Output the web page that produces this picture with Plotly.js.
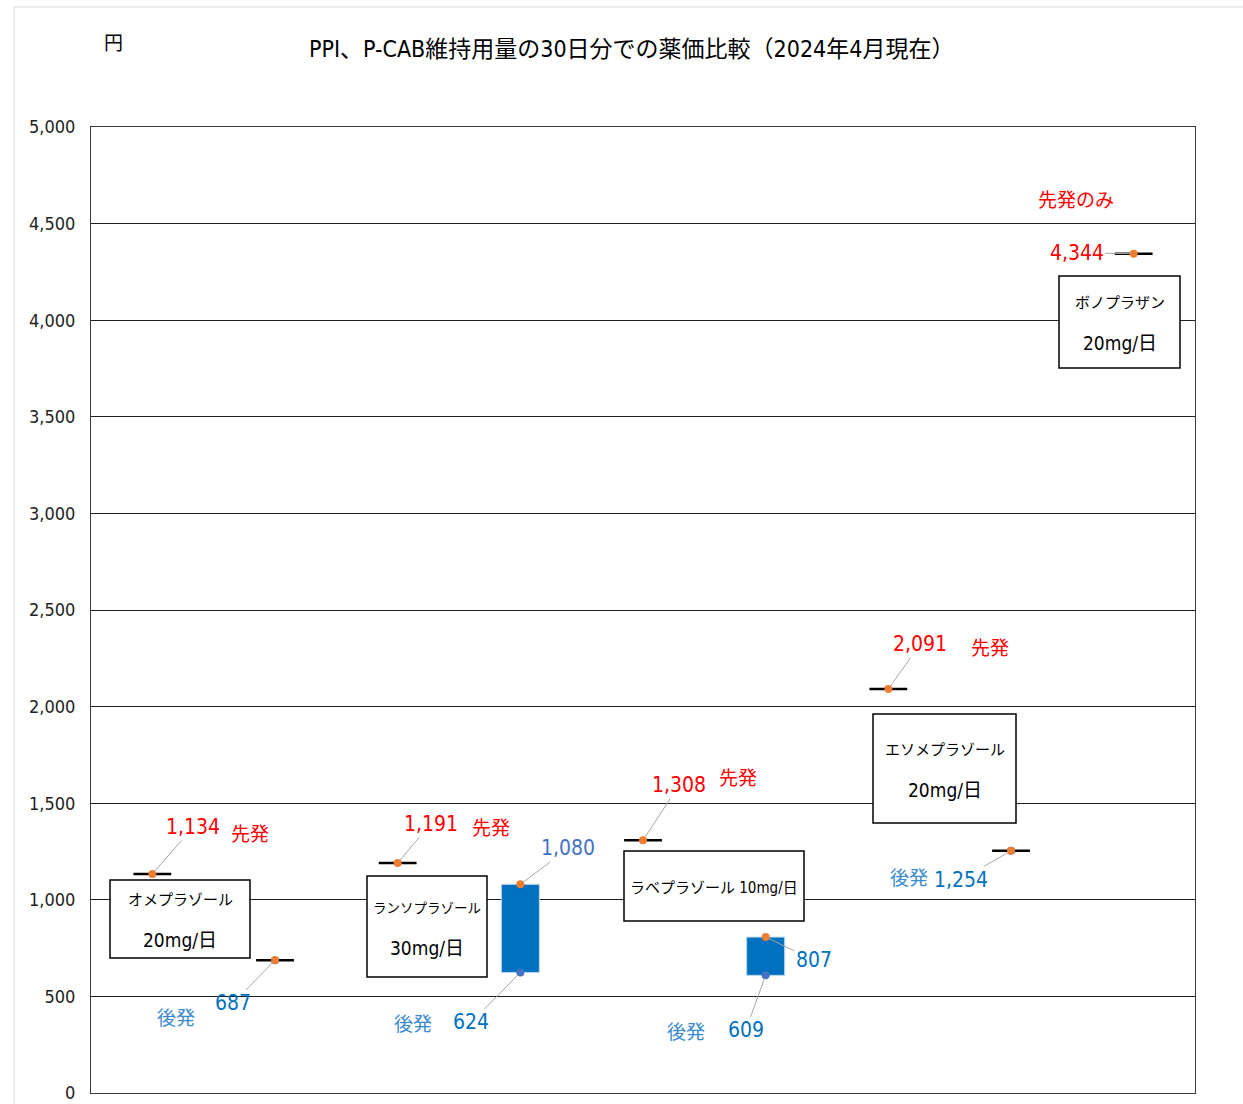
<!DOCTYPE html>
<html><head><meta charset="utf-8">
<script src="https://cdn.plot.ly/plotly-3.0.1.min.js"></script>
<style>html,body{margin:0;padding:0;background:#fff}#chart{width:1243px;height:1104px}</style>
</head><body><div id="chart"></div>
<script>
// ---- data ----
const categories = ['オメプラゾール先発','オメプラゾール後発','ランソプラゾール先発','ランソプラゾール後発','ラベプラゾール先発','ラベプラゾール後発','エソメプラゾール先発','エソメプラゾール後発','ボノプラザン先発'];
const brandX = [0, 2, 4, 6, 8];
const brandVal = [1134, 1191, 1308, 2091, 4344];
const genericX = [1, 3, 5, 7];
const genericLow = [687, 624, 609, 1254];
const genericHigh = [687, 1080, 807, 1254];
const drugNames = ['オメプラゾール', 'ランソプラゾール', 'ラベプラゾール', 'エソメプラゾール', 'ボノプラザン'];
const doses = ['20mg/日', '30mg/日', '10mg/日', '20mg/日', '20mg/日'];
const yTicks = [0, 500, 1000, 1500, 2000, 2500, 3000, 3500, 4000, 4500, 5000];
const titleText = 'PPI、P-CAB維持用量の30日分での薬価比較（2024年4月現在）';

// ---- helpers (pixel -> paper) ----
const L = 91, R = 1195, T = 127, B = 1093;
const PX = px => (px - L) / (R - L);
const PY = py => (B - py) / (B - T);
const NARROW = '"Liberation Sans Narrow", "DejaVu Sans Condensed", "Noto Sans CJK JP", sans-serif';
const JP = '"Noto Sans CJK JP", sans-serif';
const fmt = v => v.toLocaleString('en-US');
const txt = (px, py, text, font) => ({ x: PX(px), y: PY(py), xref: 'paper', yref: 'paper', text: text,
  showarrow: false, xanchor: 'center', yanchor: 'middle', font: font });

// ---- traces ----
const rangeIdx = genericX.map((x, i) => i).filter(i => genericHigh[i] > genericLow[i]);
const singleIdx = genericX.map((x, i) => i).filter(i => genericHigh[i] === genericLow[i]);

const traces = [
  { type: 'bar', x: rangeIdx.map(i => genericX[i]), base: rangeIdx.map(i => genericLow[i]),
    y: rangeIdx.map(i => genericHigh[i] - genericLow[i]), width: 0.31,
    marker: { color: '#0070C0', line: { color: '#BDD7EE', width: 1 } }, hoverinfo: 'skip' },
  { type: 'scatter', mode: 'markers',
    x: brandX.concat(singleIdx.map(i => genericX[i])),
    y: brandVal.concat(singleIdx.map(i => genericHigh[i])),
    marker: { symbol: 'line-ew', size: 27, line: { width: 2.5, color: '#000' } }, hoverinfo: 'skip' },
  { type: 'scatter', mode: 'markers', x: genericX, y: genericLow,
    marker: { size: 8, color: '#4472C4' }, hoverinfo: 'skip' },
  { type: 'scatter', mode: 'markers', x: brandX.concat(genericX), y: brandVal.concat(genericHigh),
    marker: { size: 8, color: '#ED7D31' }, hoverinfo: 'skip' }
];

// ---- annotations ----
const ann = [];
const arrowStyle = { showarrow: true, arrowhead: 0, arrowwidth: 1, arrowcolor: '#A6A6A6', standoff: 3 };
// brand value labels
const brandOff = [[41, -47], [33, -39], [36, -55], [32, -45], [-57, -1]];
brandX.forEach((x, i) => ann.push(Object.assign({ x: x, y: brandVal[i], xref: 'x', yref: 'y',
  text: fmt(brandVal[i]), ax: brandOff[i][0], ay: brandOff[i][1],
  font: { family: NARROW, size: 21, color: '#FF0000' } }, arrowStyle)));
// generic labels
const highOff = [[-42, 43], [48, -36], [48, 23], [-50, 29]];
const highColor = ['#0070C0', '#4472C4', '#0070C0', '#0070C0'];
const lowOff = [null, [-49, 50], [-20, 55], null];
genericX.forEach((x, i) => {
  ann.push(Object.assign({ x: x, y: genericHigh[i], xref: 'x', yref: 'y', text: fmt(genericHigh[i]),
    ax: highOff[i][0], ay: highOff[i][1], font: { family: NARROW, size: 21, color: highColor[i] } }, arrowStyle));
  if (genericHigh[i] > genericLow[i]) {
    ann.push(Object.assign({ x: x, y: genericLow[i], xref: 'x', yref: 'y', text: fmt(genericLow[i]),
      ax: lowOff[i][0], ay: lowOff[i][1], font: { family: NARROW, size: 21, color: '#0070C0' } }, arrowStyle));
  }
});
// 先発 / 後発 tags
const sentPos = [[250, 832], [491, 826], [738, 776], [990, 646]];
sentPos.forEach(p => ann.push(txt(p[0], p[1], '先発', { family: JP, size: 19, color: '#FF0000' })));
ann.push(txt(1076, 198, '先発のみ', { family: JP, size: 19, color: '#FF0000' }));
const koPos = [[176, 1016], [413, 1022], [686, 1030], [909, 876]];
koPos.forEach(p => ann.push(txt(p[0], p[1], '後発', { family: JP, size: 19, color: '#3A8AD0' })));

// drug name boxes
const boxes = [[110, 880, 250, 958], [367, 876, 487, 977], [624, 851, 804, 921], [873, 714, 1016, 823], [1059, 276, 1180, 368]];
const nameSize = [15, 13.5, 15, 15, 15];
const shapes = [];
boxes.forEach((b, i) => {
  shapes.push({ type: 'rect', xref: 'paper', yref: 'paper', x0: PX(b[0]), x1: PX(b[2]), y0: PY(b[3]), y1: PY(b[1]),
    line: { color: '#000', width: 1.5 }, fillcolor: '#fff', layer: 'above' });
  const cx = (b[0] + b[2]) / 2, cy = (b[1] + b[3]) / 2;
  if (i === 2) {
    ann.push(txt(cx, cy + 2, drugNames[i] + ' ' + doses[i], { family: NARROW, size: 15, color: '#000' }));
  } else {
    ann.push(txt(cx, cy - 19, drugNames[i], { family: NARROW, size: nameSize[i], color: '#000' }));
    ann.push(txt(cx, cy + 21, doses[i], { family: NARROW, size: 19, color: '#000' }));
  }
});
// gap in the 500 gridline behind the first 後発 label
shapes.push({ type: 'rect', xref: 'paper', yref: 'paper', x0: PX(147), x1: PX(207), y0: PY(1003), y1: PY(990),
  line: { width: 0 }, fillcolor: '#fff', layer: 'between' });
// outer light frame
shapes.push({ type: 'rect', xref: 'paper', yref: 'paper', x0: PX(14), x1: PX(1260), y0: PY(1120), y1: PY(7),
  line: { color: '#D9D9D9', width: 1 }, fillcolor: 'rgba(0,0,0,0)', layer: 'below' });

// title and unit
ann.push(txt(631, 49, titleText, { family: NARROW, size: 23, color: '#000' }));
ann.push(txt(113, 41, '円', { family: JP, size: 19, color: '#000' }));

const layout = {
  width: 1243, height: 1104,
  margin: { l: L, r: 1243 - R, t: T, b: 1104 - B, pad: 0 },
  paper_bgcolor: '#fff', plot_bgcolor: '#fff',
  showlegend: false,
  xaxis: { range: [-0.5, 8.5], showticklabels: false, showgrid: false, zeroline: false, ticks: '',
    showline: true, mirror: true, linecolor: '#3a3a3a', linewidth: 1, fixedrange: true },
  yaxis: { range: [0, 5000], tickvals: yTicks, ticktext: yTicks.map(fmt), showgrid: true, gridcolor: '#1f1f1f',
    gridwidth: 1, zeroline: false, ticks: '', ticklabelstandoff: 11,
    tickfont: { family: '"DejaVu Sans Condensed", "DejaVu Sans", sans-serif', size: 18, color: '#222' },
    showline: true, mirror: true, linecolor: '#3a3a3a', linewidth: 1, fixedrange: true },
  annotations: ann,
  shapes: shapes,
  bargap: 0
};
Plotly.newPlot('chart', traces, layout, { displayModeBar: false, staticPlot: true });
</script>
</body></html>
